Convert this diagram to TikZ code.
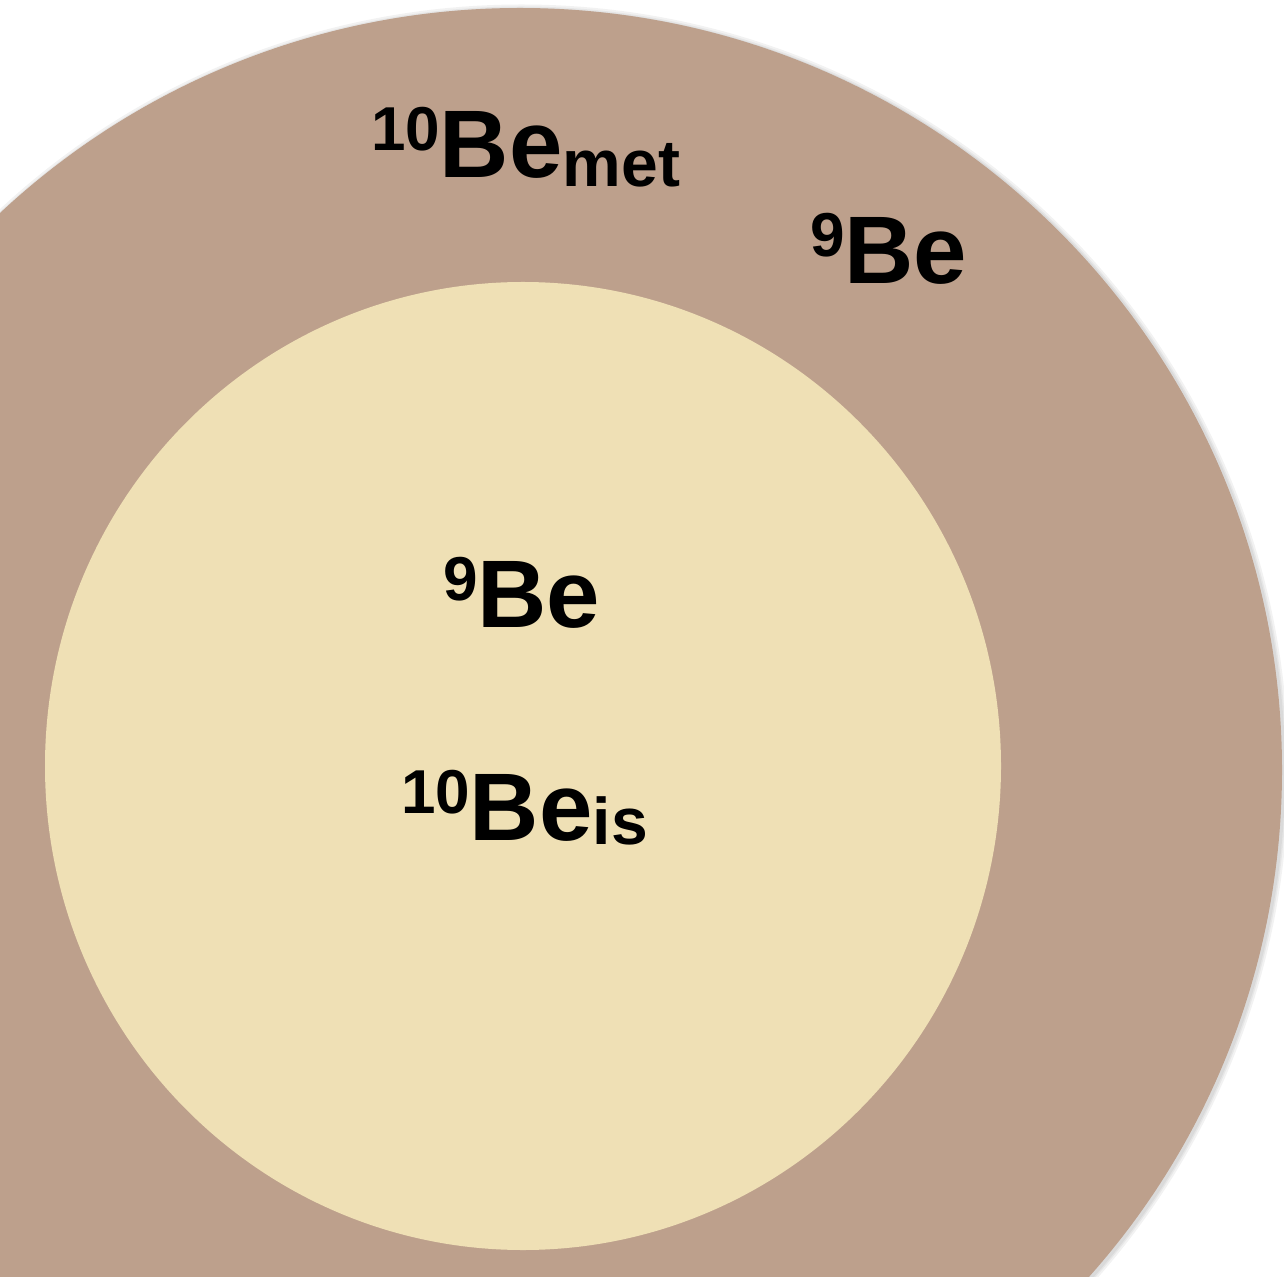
\documentclass[tikz,border=0pt]{standalone}
\usepackage{fontspec}
\setmainfont{Liberation Sans}

\definecolor{crust}{RGB}{189,160,140}
\definecolor{core}{RGB}{239,224,181}

% isotope label: mass number, element, optional subscript
\newcommand{\massnum}[1]{\raisebox{13.5pt}{\fontsize{31}{31}\selectfont #1}}
\newcommand{\elem}{\fontsize{48}{48}\selectfont Be}
\newcommand{\tagsub}[2]{\raisebox{-#2}{\fontsize{33}{33}\selectfont #1}}

\tikzset{
  isolabel/.style={inner sep=0pt, outer sep=0pt, font=\bfseries, text=black, anchor=base west},
  halo/.style={fill=black, fill opacity=0.05, draw=none},
  shell/.style={fill=crust, draw=none},
  kernel/.style={fill=core, draw=none}
}

\begin{document}
\begin{tikzpicture}[x=0.5pt, y=-0.5pt]
  \useasboundingbox (0,0) rectangle (1284,1277);
  \begin{scope}
    \clip (0,0) rectangle (1284,1277);
    % soft shadow under the outer layer
    \foreach \r in {383.5pt,382.5pt,381.8pt}
      \fill[halo] (521.5,771.5) circle [radius=\r];
    % outer layer
    \fill[shell] (520,770) circle [radius=381pt];
    % inner layer
    \fill[kernel] (523,766) ellipse [x radius=239pt, y radius=242pt];
  \end{scope}

  % labels in the outer layer
  \node[isolabel] (metlabel) at (371,178) {\massnum{10}\elem\tagsub{met}{4.5pt}};
  \node[isolabel] (outernine) at (810,284) {\massnum{9}\elem};

  % labels in the inner layer
  \node[isolabel] (innernine) at (443,628) {\massnum{9}\elem};
  \node[isolabel] (islabel) at (401,840) {\massnum{10}\elem\tagsub{is}{2pt}};
\end{tikzpicture}
\end{document}
